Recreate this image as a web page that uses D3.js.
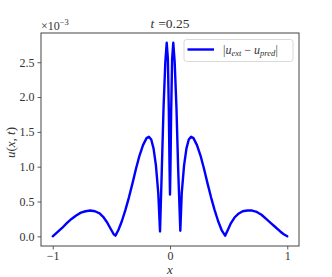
<!DOCTYPE html>
<html>
<head>
<meta charset="utf-8">
<script src="https://cdn.jsdelivr.net/npm/d3@7"></script>
<style>
  body { margin: 0; background: #fff; }
  svg text { font-family: 'Liberation Serif', 'Times New Roman', serif !important; fill: #333; }
</style>
</head>
<body>
<div id="chart"></div>
<script>
// error curve |u_ext - u_pred| at t = 0.25, values in units of 1e-3
const xs = [-1.00, -0.96, -0.92, -0.88, -0.84, -0.80, -0.76, -0.72, -0.68, -0.64, -0.60, -0.57, -0.54, -0.51, -0.48, -0.465,
  -0.44, -0.41, -0.38, -0.35, -0.32, -0.29, -0.26, -0.23, -0.20, -0.18, -0.16, -0.14, -0.12, -0.10, -0.085,
  -0.07, -0.055, -0.04, -0.028, -0.018, -0.01, -0.004, 0.0,
  0.004, 0.01, 0.018, 0.028, 0.04, 0.055, 0.07, 0.088,
  0.10, 0.12, 0.14, 0.16, 0.18, 0.20, 0.23, 0.26, 0.29, 0.32, 0.35, 0.38, 0.41, 0.44, 0.47,
  0.49, 0.52, 0.55, 0.58, 0.62, 0.66, 0.70, 0.74, 0.78, 0.82, 0.86, 0.90, 0.94, 0.97, 1.00];
const errs = [0.00, 0.06, 0.12, 0.19, 0.25, 0.30, 0.34, 0.36, 0.37, 0.36, 0.33, 0.28, 0.21, 0.12, 0.03, 0.01,
  0.09, 0.22, 0.38, 0.56, 0.76, 0.97, 1.16, 1.31, 1.41, 1.43, 1.39, 1.26, 1.02, 0.62, 0.07,
  0.95, 1.85, 2.50, 2.78, 2.55, 1.80, 1.00, 0.60,
  1.00, 1.80, 2.55, 2.78, 2.50, 1.85, 0.95, 0.08,
  0.62, 1.02, 1.26, 1.39, 1.43, 1.41, 1.31, 1.16, 0.97, 0.76, 0.56, 0.38, 0.22, 0.09, 0.01,
  0.08, 0.19, 0.27, 0.32, 0.36, 0.37, 0.37, 0.35, 0.31, 0.25, 0.19, 0.13, 0.07, 0.03, 0.00];
const xTicks = [-1, 0, 1];
const yTicks = [0.0, 0.5, 1.0, 1.5, 2.0, 2.5];

const width = 332, height = 277;
const margin = { top: 33, right: 33, bottom: 31, left: 41 };
const SERIF = "'Liberation Serif', 'Times New Roman', serif";

const svg = d3.select('#chart').append('svg')
  .attr('width', width)
  .attr('height', height)
  .attr('font-family', SERIF);

const x = d3.scaleLinear().domain([-1.1, 1.1]).range([margin.left, width - margin.right]);
const y = d3.scaleLinear().domain([-0.139, 2.92]).range([height - margin.bottom, margin.top]);

// axes
const xAxis = svg.append('g')
  .attr('transform', `translate(0,${height - margin.bottom})`)
  .call(d3.axisBottom(x).tickValues(xTicks).tickSize(3.5).tickPadding(2)
    .tickFormat(d => d < 0 ? '\u2212' + Math.abs(d) : d));
const yAxis = svg.append('g')
  .attr('transform', `translate(${margin.left},0)`)
  .call(d3.axisLeft(y).tickValues(yTicks).tickSize(3.5).tickPadding(3)
    .tickFormat(d3.format('.1f')));
[xAxis, yAxis].forEach(g => {
  g.attr('font-family', SERIF).attr('font-size', 12);
  g.select('.domain').remove();
  g.selectAll('.tick line').attr('stroke', '#333').attr('stroke-width', 0.8);
  g.selectAll('.tick text').attr('fill', '#333');
});

// frame
svg.append('rect')
  .attr('x', margin.left)
  .attr('y', margin.top)
  .attr('width', width - margin.left - margin.right)
  .attr('height', height - margin.top - margin.bottom)
  .attr('fill', 'none')
  .attr('stroke', '#444')
  .attr('stroke-width', 1);

// curve
const points = xs.map((d, i) => [d, errs[i]]);
svg.append('path')
  .datum(points)
  .attr('fill', 'none')
  .attr('stroke', '#0000ff')
  .attr('stroke-width', 2.4)
  .attr('stroke-linejoin', 'round')
  .attr('stroke-linecap', 'round')
  .attr('d', d3.line().x(d => x(d[0])).y(d => y(d[1])).curve(d3.curveLinear));

// title
const title = svg.append('text')
  .attr('x', (margin.left + width - margin.right) / 2)
  .attr('y', 28.3)
  .attr('text-anchor', 'middle')
  .attr('font-size', 13.5);
title.append('tspan').attr('font-style', 'italic').text('t');
title.append('tspan').attr('dx', 4).text('=0.25');

// offset text
const offset = svg.append('text')
  .attr('x', margin.left)
  .attr('y', 29.5)
  .attr('font-size', 12);
offset.append('tspan').text('\u00d710');
offset.append('tspan').attr('dy', -5).attr('font-size', 8.5).text('\u22123');

// axis labels
const ylab = svg.append('text')
  .attr('transform', `translate(15,${(margin.top + height - margin.bottom) / 2 + 3}) rotate(-90)`)
  .attr('text-anchor', 'middle')
  .attr('font-size', 13);
ylab.append('tspan').attr('font-style', 'italic').text('u');
ylab.append('tspan').text('(');
ylab.append('tspan').attr('font-style', 'italic').text('x');
ylab.append('tspan').text(', ');
ylab.append('tspan').attr('font-style', 'italic').text('t');
ylab.append('tspan').text(')');

svg.append('text')
  .attr('x', x(0))
  .attr('y', 274)
  .attr('text-anchor', 'middle')
  .attr('font-size', 13)
  .attr('font-style', 'italic')
  .text('x');

// legend
const legend = svg.append('g');
legend.append('rect')
  .attr('x', 184)
  .attr('y', 39.5)
  .attr('width', 109)
  .attr('height', 22)
  .attr('rx', 2.5)
  .attr('fill', '#fff')
  .attr('fill-opacity', 0.8)
  .attr('stroke', '#d5d5d5')
  .attr('stroke-width', 0.9);
legend.append('line')
  .attr('x1', 187.5).attr('x2', 214)
  .attr('y1', 49.5).attr('y2', 49.5)
  .attr('stroke', '#0000ff')
  .attr('stroke-width', 2.4);
const lt = legend.append('text')
  .attr('x', 223)
  .attr('y', 54)
  .attr('font-size', 12);
lt.append('tspan').text('|');
lt.append('tspan').attr('font-style', 'italic').text('u');
lt.append('tspan').attr('font-style', 'italic').attr('font-size', 8.5).attr('dy', 2).text('ext');
lt.append('tspan').attr('dy', -2).text(' \u2212 ');
lt.append('tspan').attr('font-style', 'italic').text('u');
lt.append('tspan').attr('font-style', 'italic').attr('font-size', 8.5).attr('dy', 2).text('pred');
lt.append('tspan').attr('dy', -2).text('|');
</script>
</body>
</html>
